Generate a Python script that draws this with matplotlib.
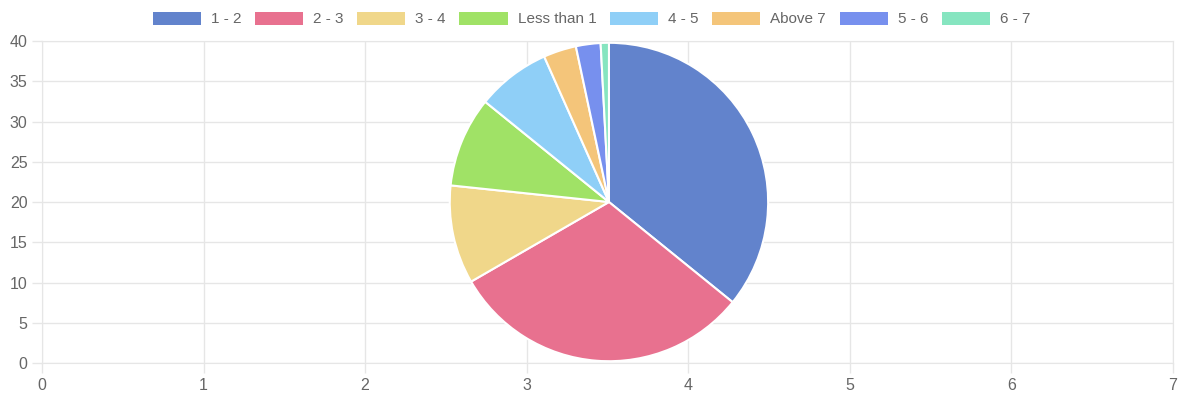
import matplotlib.pyplot as plt
from matplotlib.patches import Patch

plt.rcParams['font.family'] = ['Liberation Sans', 'DejaVu Sans']

labels = ['1 - 2', '2 - 3', '3 - 4', 'Less than 1', '4 - 5', 'Above 7', '5 - 6', '6 - 7']
counts = [43, 37, 12, 11, 9, 4, 3, 1]
colors = ['#6283CC', '#E8718F', '#F0D78A', '#A0E266', '#8FCFF7', '#F4C57A', '#7790EE', '#86E5C0']

x_ticks = list(range(0, 8))
y_ticks = list(range(0, 41, 5))

fig = plt.figure(figsize=(11.83, 3.99), dpi=100)

# background grid axes (chart.js style)
ax = fig.add_axes([0.0355, 0.0902, 0.956, 0.807])
ax.set_xlim(0, 7)
ax.set_ylim(0, 40)
ax.set_xticks(x_ticks)
ax.set_yticks(y_ticks)
ax.grid(True, color='#e6e6e6', linewidth=1)
ax.set_axisbelow(True)
for s in ax.spines.values():
    s.set_color('#e6e6e6')
ax.tick_params(colors='#666666', labelsize=11.5, length=7, width=1)
ax.tick_params(axis='both', color='#e6e6e6')

# pie on top
pax = fig.add_axes([0.3795, 0.0927, 0.2705, 0.802])
pax.pie(counts, colors=colors, startangle=90, counterclock=False,
        wedgeprops=dict(edgecolor='white', linewidth=1.5))
pax.set_xlim(-1.005, 1.005)
pax.set_ylim(-1.005, 1.005)
pax.set_aspect('equal')

handles = [Patch(facecolor=c, edgecolor='none') for c in colors]
fig.legend(handles, labels, loc='center', bbox_to_anchor=(0.5, 1 - 19 / 399), ncol=8,
           frameon=False, fontsize=11, handlelength=3.15, handleheight=0.95,
           columnspacing=0.9, handletextpad=0.65, labelcolor='#666666')

fig.savefig('out.png', dpi=100)
